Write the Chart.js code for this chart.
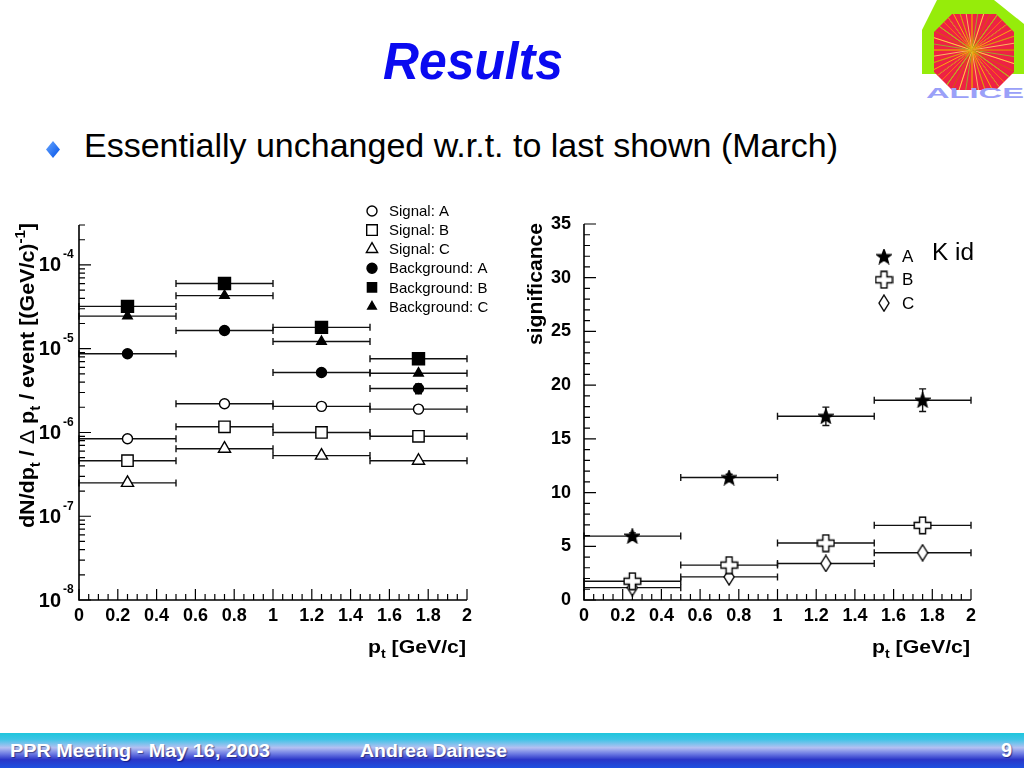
<!DOCTYPE html>
<html>
<head>
<meta charset="utf-8">
<title>Results</title>
<script src="https://cdn.jsdelivr.net/npm/chart.js@4.4.1/dist/chart.umd.min.js"></script>
<style>
  html, body { margin: 0; padding: 0; }
  body { width: 1024px; height: 768px; position: relative; overflow: hidden; background: #fff;
         font-family: "Liberation Sans", Arial, Helvetica, sans-serif; }
  .abs { position: absolute; white-space: nowrap; line-height: 1; transform-origin: 0 0; }
  #title { left: 383px; top: 36px; font-size: 51px; font-weight: bold; font-style: italic; color: #0a0af0; }
  #bullet { left: 46px; top: 141px; }
  #point { left: 84px; top: 129px; font-size: 33px; color: #000; }
  #kid { left: 932px; top: 241px; font-size: 23px; color: #000; }
  #spectra { position: absolute; left: 0; top: 190px; }
  #signif { position: absolute; left: 510px; top: 190px; }
  #footer { position: absolute; left: 0; top: 733px; width: 1024px; height: 35px;
            background: linear-gradient(to bottom, #1fc6dc 0%, #3cc4e6 18%, #b4c0f2 42%, #6a78e2 60%, #2a36c8 76%, #1e50e0 100%); }
  .foot { color: #fff; font-weight: bold; font-size: 18px; top: 742px; text-shadow: 1px 1px 1px rgba(0,0,60,.5); }
</style>
</head>
<body>
<div id="title" class="abs" data-w="180">Results</div>
<svg id="bullet" class="abs" width="14" height="17" viewBox="0 0 14 17">
  <defs><linearGradient id="bg" x1="0" y1="0" x2="1" y2="1">
    <stop offset="0" stop-color="#6aa8ff"/><stop offset="1" stop-color="#0050e8"/></linearGradient></defs>
  <polygon points="7,0 14,8.5 7,17 0,8.5" fill="url(#bg)"/>
</svg>
<div id="point" class="abs" data-w="754">Essentially unchanged w.r.t. to last shown (March)</div>

<svg class="abs" style="left:922px;top:0" width="102" height="100" viewBox="922 0 102 100">
  <defs><clipPath id="oct"><polygon points="952,14 996,14 1014,32 1014,72 996,90 952,90 934,72 934,32"/></clipPath></defs>
  <polygon points="937,0 994,0 1024,24 1024,74 922,74 922,30" fill="#96ec0a"/>
  <polygon points="952,14 996,14 1014,32 1014,72 996,90 952,90 934,72 934,32" fill="#ee2244"/>
  <g id="tracks" clip-path="url(#oct)" stroke-width="0.8"></g>
  <text x="926" y="98" font-size="14" font-weight="bold" fill="#9aa0f8" textLength="98" lengthAdjust="spacingAndGlyphs">ALICE</text>
</svg>

<canvas id="spectra" width="500" height="480"></canvas>
<canvas id="signif" width="514" height="480"></canvas>
<div id="kid" class="abs" data-w="42">K id</div>

<div id="footer"></div>
<div class="abs foot" style="left:10px" data-w="260">PPR Meeting - May 16, 2003</div>
<div class="abs foot" style="left:360px" data-w="147">Andrea Dainese</div>
<div class="abs foot" style="left:1001px;top:740px;font-size:20px">9</div>

<script>
// bins in pt [GeV/c]
const binCenters = [0.25, 0.75, 1.25, 1.75];
const binHalfWidth = 0.25;

// left panel: dN/dpt / dpt / event
const signalA = [8.4e-7, 2.2e-6, 2.05e-6, 1.9e-6];
const signalB = [4.6e-7, 1.17e-6, 1.0e-6, 9.0e-7];
const signalC = [2.5e-7, 6.4e-7, 5.3e-7, 4.6e-7];
const backgroundA = [8.7e-6, 1.65e-5, 5.2e-6, 3.35e-6];
const backgroundAErr = [0, 0, 0, 4.5e-7];
const backgroundB = [3.2e-5, 6.0e-5, 1.8e-5, 7.6e-6];
const backgroundC = [2.45e-5, 4.3e-5, 1.22e-5, 5.1e-6];
const logExponents = [-8, -7, -6, -5, -4];

// right panel: significance
const significanceA = [5.95, 11.4, 17.1, 18.6];
const significanceAErr = [0.3, 0.3, 0.85, 1.05];
const significanceB = [1.75, 3.25, 5.3, 6.95];
const significanceC = [1.15, 2.15, 3.4, 4.4];

const FONT = '"Liberation Sans", Arial, Helvetica, sans-serif';
Chart.defaults.font.family = FONT;
Chart.defaults.color = '#000';

// stretch slide texts to the widths they have on the slide
document.querySelectorAll('[data-w]').forEach(el => {
    const w = el.getBoundingClientRect().width;
    el.style.transform = `scaleX(${el.dataset.w / w})`;
});

// logo tracks
(function () {
    const g = document.getElementById('tracks');
    const cols = ['#ffcc00', '#88cc22', '#ff8800', '#ffdd66', '#cc6600'];
    for (let i = 0; i < 60; i++) {
        const a = i * Math.PI / 30 + (i % 3) * 0.05;
        const l = document.createElementNS('http://www.w3.org/2000/svg', 'line');
        l.setAttribute('x1', 972); l.setAttribute('y1', 50);
        l.setAttribute('x2', 972 + 60 * Math.cos(a)); l.setAttribute('y2', 50 + 60 * Math.sin(a));
        l.setAttribute('stroke', cols[i % cols.length]);
        g.appendChild(l);
    }
})();

function points(ys, errs) {
    return binCenters.map((x, i) => ({ x, y: ys[i], dx: binHalfWidth, dy: errs ? errs[i] : 0 }));
}

function marker(w, h, path, fill) {
    const c = document.createElement('canvas');
    c.width = w; c.height = h;
    const g = c.getContext('2d');
    g.beginPath(); path(g); g.closePath();
    g.fillStyle = fill; g.fill();
    g.lineWidth = 1.4; g.strokeStyle = '#000'; g.stroke();
    return c;
}

const starMarker = marker(16, 16, g => {
    for (let i = 0; i < 10; i++) {
        const r = i % 2 ? 3.2 : 7.5, a = -Math.PI / 2 + i * Math.PI / 5;
        g.lineTo(8 + r * Math.cos(a), 8.5 + r * Math.sin(a));
    }
}, '#000');
const crossMarker = marker(19, 19, g => {
    const c = 9.5, a = 3, b = 8.3;
    [[c - a, c - b], [c + a, c - b], [c + a, c - a], [c + b, c - a], [c + b, c + a], [c + a, c + a],
     [c + a, c + b], [c - a, c + b], [c - a, c + a], [c - b, c + a], [c - b, c - a], [c - a, c - a]]
        .forEach(p => g.lineTo(p[0], p[1]));
}, '#fff');
const diamondMarker = marker(12, 18, g => {
    g.moveTo(6, 1); g.lineTo(11, 9); g.lineTo(6, 17); g.lineTo(1, 9);
}, '#fff');

function series(label, data, style, radius, fill, legendRadius) {
    return { label, data, pointStyle: style, pointRadius: radius, legendRadius: legendRadius || radius,
             backgroundColor: fill, borderColor: '#000', borderWidth: 1.4, showLine: false };
}

function drawRich(ctx, segs, x, y, size, o) {
    const fontFor = s => `${s.plain ? '' : 'bold '}${s.sub || s.sup ? Math.round(size * 0.68) : size}px ${FONT}`;
    ctx.save();
    let total = 0;
    segs.forEach(s => { ctx.font = fontFor(s); s.w = ctx.measureText(s.t).width; total += s.w; });
    ctx.translate(x, y);
    if (o.rotate) ctx.rotate(-Math.PI / 2);
    if (o.width) ctx.scale(o.width / total, 1);
    let cx = o.align === 'right' ? -total : 0;
    ctx.textBaseline = 'alphabetic'; ctx.textAlign = 'left'; ctx.fillStyle = '#000';
    segs.forEach(s => {
        ctx.font = fontFor(s);
        ctx.fillText(s.t, cx, s.sub ? size * 0.3 : s.sup ? -size * 0.45 : 0);
        cx += s.w;
    });
    ctx.restore();
}

const binErrorBars = {
    id: 'binErrorBars',
    beforeDatasetsDraw(chart) {
        const { ctx, scales: { x, y } } = chart;
        const cap = 3.5;
        ctx.save();
        ctx.strokeStyle = '#111'; ctx.lineWidth = 1.4;
        chart.data.datasets.forEach(ds => ds.data.forEach(p => {
            const xl = x.getPixelForValue(p.x - p.dx), xr = x.getPixelForValue(p.x + p.dx);
            const px = x.getPixelForValue(p.x), py = y.getPixelForValue(p.y);
            ctx.beginPath();
            ctx.moveTo(xl, py); ctx.lineTo(xr, py);
            ctx.moveTo(xl, py - cap); ctx.lineTo(xl, py + cap);
            ctx.moveTo(xr, py - cap); ctx.lineTo(xr, py + cap);
            if (p.dy) {
                const yt = y.getPixelForValue(p.y + p.dy), yb = y.getPixelForValue(p.y - p.dy);
                ctx.moveTo(px, yt); ctx.lineTo(px, yb);
                ctx.moveTo(px - cap, yt); ctx.lineTo(px + cap, yt);
                ctx.moveTo(px - cap, yb); ctx.lineTo(px + cap, yb);
            }
            ctx.stroke();
        }));
        ctx.restore();
    }
};

// ROOT style frame: axes on left/bottom, ticks pointing inwards
const rootAxes = {
    id: 'rootAxes',
    afterDraw(chart, args, o) {
        const { ctx, chartArea: a, scales: { x, y } } = chart;
        ctx.save();
        ctx.strokeStyle = '#000'; ctx.lineWidth = 1.2;
        ctx.beginPath();
        const n = Math.round((x.max - x.min) / o.xMinor), every = Math.round(o.xMajor / o.xMinor);
        for (let i = 0; i <= n; i++) {
            const px = x.getPixelForValue(x.min + i * o.xMinor);
            ctx.moveTo(px, a.bottom); ctx.lineTo(px, a.bottom - (i % every === 0 ? 11 : 6));
        }
        const yt = [];
        if (o.yLog) {
            for (let e = Math.floor(Math.log10(y.min)); e <= Math.ceil(Math.log10(y.max)); e++) {
                for (let k = 1; k <= 9; k++) {
                    const v = k * Math.pow(10, e);
                    if (v >= y.min * 0.999 && v <= y.max * 1.001) yt.push({ v, major: k === 1 });
                }
            }
        } else {
            const m = Math.round((y.max - y.min) / o.yMinor), ev = Math.round(o.yMajor / o.yMinor);
            for (let i = 0; i <= m; i++) yt.push({ v: y.min + i * o.yMinor, major: i % ev === 0 });
        }
        yt.forEach(t => {
            const py = y.getPixelForValue(t.v);
            ctx.moveTo(a.left, py); ctx.lineTo(a.left + (t.major ? 12 : 6), py);
        });
        ctx.stroke();
        ctx.lineWidth = 1.6;
        ctx.beginPath();
        ctx.moveTo(a.left, a.top); ctx.lineTo(a.left, a.bottom); ctx.lineTo(a.right, a.bottom);
        ctx.stroke();

        if (o.yLog) {
            ctx.fillStyle = '#000';
            logExponents.forEach(e => {
                const py = y.getPixelForValue(Math.pow(10, e));
                ctx.font = `bold 20px ${FONT}`; ctx.textAlign = 'right'; ctx.textBaseline = 'middle';
                ctx.fillText('10', a.left - 18, py + 1);
                ctx.font = `bold 12px ${FONT}`; ctx.textAlign = 'left';
                ctx.fillText(String(e), a.left - 16, py - 10);
            });
        }
        const t = o.titles;
        drawRich(ctx, t.x, a.right - 1, a.bottom + 53, 18, { align: 'right', width: t.xWidth });
        drawRich(ctx, t.y, t.yX, t.yBottom, 20, { rotate: true, width: t.yWidth });
        ctx.restore();
    }
};

const markerLegend = {
    id: 'markerLegend',
    afterDraw(chart, args, o) {
        const ctx = chart.ctx;
        ctx.save();
        chart.data.datasets.forEach((ds, i) => {
            const y = o.top + i * o.step;
            ctx.fillStyle = ds.backgroundColor; ctx.strokeStyle = ds.borderColor; ctx.lineWidth = ds.borderWidth;
            Chart.helpers.drawPoint(ctx, { pointStyle: ds.pointStyle, radius: ds.legendRadius, rotation: 0,
                                           borderWidth: ds.borderWidth }, o.x, y);
            ctx.fillStyle = '#000'; ctx.font = o.font;
            ctx.textBaseline = 'middle'; ctx.textAlign = 'left';
            ctx.fillText(ds.label, o.textX, y + 1);
        });
        ctx.restore();
    }
};

const xAxis = {
    type: 'linear', min: 0, max: 2,
    afterFit(s) { s.height = 70; },
    grid: { display: false }, border: { display: false },
    ticks: { stepSize: 0.2, padding: -3, autoSkip: false, maxRotation: 0,
             font: { size: 18, weight: 'bold' }, callback: v => String(+v.toFixed(2)) }
};
const ptTitle = [{ t: 'p' }, { t: 't', sub: 1 }, { t: ' [GeV/c]' }];

new Chart(document.getElementById('spectra'), {
    type: 'scatter',
    data: {
        datasets: [
            series('Signal: A', points(signalA), 'circle', 5, '#fff'),
            series('Signal: B', points(signalB), 'rect', 8, '#fff', 7.5),
            series('Signal: C', points(signalC), 'triangle', 7, '#fff', 6.5),
            series('Background: A', points(backgroundA, backgroundAErr), 'circle', 5, '#000'),
            series('Background: B', points(backgroundB), 'rect', 8.5, '#000', 6.5),
            series('Background: C', points(backgroundC), 'triangle', 5.5, '#000', 5)
        ]
    },
    options: {
        responsive: false, animation: false, events: [],
        layout: { padding: { left: 0, right: 33, top: 35, bottom: 0 } },
        plugins: {
            legend: { display: false }, tooltip: { enabled: false },
            rootAxes: {
                xMinor: 0.05, xMajor: 0.2, yLog: true,
                titles: {
                    x: ptTitle, xWidth: 98,
                    y: [{ t: 'dN/dp' }, { t: 't', sub: 1 }, { t: ' / ' }, { t: 'Δ', plain: 1 }, { t: ' p' },
                        { t: 't', sub: 1 }, { t: ' / event [(GeV/c)' }, { t: '-1', sup: 1 }, { t: ']' }],
                    yX: 34, yBottom: 338, yWidth: 305
                }
            },
            markerLegend: { x: 372, textX: 389, top: 21, step: 19.1, font: `15px ${FONT}` }
        },
        scales: {
            x: xAxis,
            y: { type: 'logarithmic', min: 1e-8, max: 3e-4, afterFit(s) { s.width = 79; },
                 grid: { display: false }, border: { display: false }, ticks: { display: false } }
        }
    },
    plugins: [binErrorBars, rootAxes, markerLegend]
});

new Chart(document.getElementById('signif'), {
    type: 'scatter',
    data: {
        datasets: [
            series('A', points(significanceA, significanceAErr), starMarker, 7, '#000'),
            series('B', points(significanceB), crossMarker, 8, '#fff'),
            series('C', points(significanceC), diamondMarker, 7, '#fff')
        ]
    },
    options: {
        responsive: false, animation: false, events: [],
        layout: { padding: { left: 0, right: 53, top: 34, bottom: 0 } },
        plugins: {
            legend: { display: false }, tooltip: { enabled: false },
            rootAxes: {
                xMinor: 0.05, xMajor: 0.2, yMinor: 1, yMajor: 5,
                titles: { x: ptTitle, xWidth: 98, y: [{ t: 'significance' }], yX: 32, yBottom: 155, yWidth: 122 }
            },
            markerLegend: { x: 374, textX: 392, top: 66.5, step: 23.3, font: `17px ${FONT}` }
        },
        scales: {
            x: xAxis,
            y: { type: 'linear', min: 0, max: 35, afterFit(s) { s.width = 74; },
                 grid: { display: false }, border: { display: false },
                 ticks: { stepSize: 5, padding: 5, font: { size: 18, weight: 'bold' } } }
        }
    },
    plugins: [binErrorBars, rootAxes, markerLegend]
});
</script>
</body>
</html>
